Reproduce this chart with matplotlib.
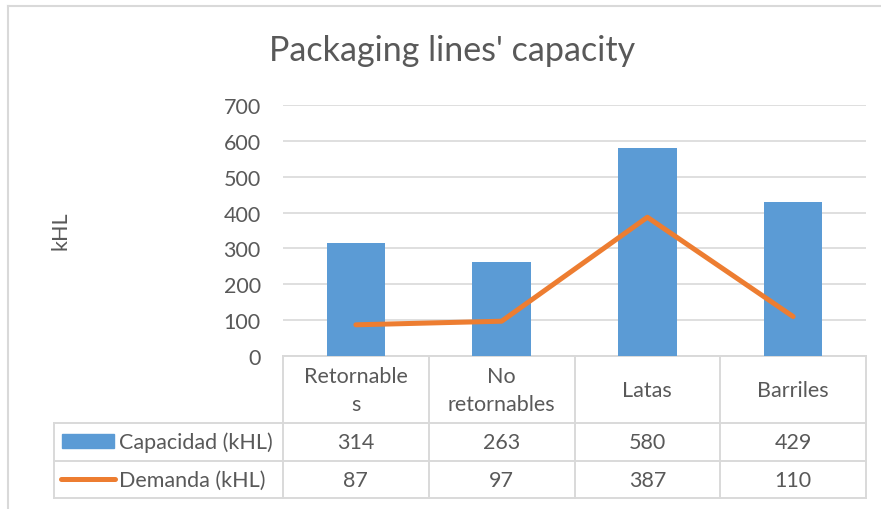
import matplotlib
matplotlib.use("Agg")
import matplotlib.pyplot as plt
from matplotlib.transforms import blended_transform_factory
from matplotlib.patches import Rectangle
from matplotlib.lines import Line2D

categories = ["Retornable\ns", "No\nretornables", "Latas", "Barriles"]
capacidad = [314, 263, 580, 429]
demanda = [87, 97, 387, 110]
series_names = ["Capacidad (kHL)", "Demanda (kHL)"]
yticks = [0, 100, 200, 300, 400, 500, 600, 700]
title = "Packaging lines' capacity"
ylabel = "kHL"

FONT = ["Lato", "DejaVu Sans"]
plt.rcParams["font.family"] = FONT
TXT = "#595959"
GRID = "#D9D9D9"
BLUE = "#5B9BD5"
ORANGE = "#ED7D31"
FS = 15.5

W, H = 881, 510
fig = plt.figure(figsize=(W / 100, H / 100), dpi=100)

# overlay in pixel coordinates
ov = fig.add_axes([0, 0, 1, 1])
ov.set_xlim(0, W)
ov.set_ylim(H, 0)
ov.axis("off")

x0, x1 = 283, 866
y_top, y_zero = 106, 357
ax = fig.add_axes([x0 / W, (H - y_zero) / H, (x1 - x0) / W, (y_zero - y_top) / H])
n = len(categories)
xs = list(range(n))
ax.bar(xs, capacidad, width=0.4, color=BLUE, zorder=2)
ax.plot(xs, demanda, color=ORANGE, lw=3.6, solid_capstyle="round", zorder=3)
ax.set_xlim(-0.5, n - 0.5)
ax.set_ylim(0, 700)
ax.set_yticks(yticks)
ax.set_yticklabels([str(t) for t in yticks], fontsize=FS, color=TXT)
ax.tick_params(axis="y", length=0, pad=16)
ax.set_xticks([])
ax.grid(axis="y", color=GRID, lw=1.2, zorder=0)
for s in ax.spines.values():
    s.set_visible(False)
ax.set_facecolor("none")

# outer chart border (left & top)
ov.add_line(Line2D([8, 8], [7, H], color=GRID, lw=1.5))
ov.add_line(Line2D([8, W], [7, 7], color=GRID, lw=1.5))

# title and y label
ov.text(452, 51, title, fontsize=24.5, color=TXT, ha="center", va="center")
ov.text(61, 231, ylabel, fontsize=FS, color=TXT, ha="center", va="center", rotation=90)

# data table
tr = blended_transform_factory(ax.transData, ov.transData)
lw_t = 1.4
left_leg = 54
# horizontal lines
ov.add_line(Line2D([left_leg, x1], [424, 424], color=GRID, lw=lw_t))
ov.add_line(Line2D([left_leg, x1], [462, 462], color=GRID, lw=lw_t))
ov.add_line(Line2D([left_leg, x1], [499, 499], color=GRID, lw=lw_t))
ov.add_line(Line2D([x0, x1], [357, 357], color=GRID, lw=lw_t))
# vertical lines
for b in [i - 0.5 for i in range(n + 1)]:
    ov.add_line(Line2D([b, b], [357, 499], color=GRID, lw=lw_t, transform=tr))
ov.add_line(Line2D([left_leg, left_leg], [424, 499], color=GRID, lw=lw_t))

for i, c in enumerate(categories):
    ov.text(i, 391, c, transform=tr, ha="center", va="center", fontsize=FS,
            color=TXT, linespacing=1.45)
    ov.text(i, 443, str(capacidad[i]), transform=tr, ha="center", va="center",
            fontsize=FS, color=TXT)
    ov.text(i, 481, str(demanda[i]), transform=tr, ha="center", va="center",
            fontsize=FS, color=TXT)

# legend keys
ov.add_patch(Rectangle((62, 435), 52, 14, color=BLUE))
ov.add_line(Line2D([61, 115], [480, 480], color=ORANGE, lw=3.6, solid_capstyle="round"))
ov.text(119, 443, series_names[0], ha="left", va="center", fontsize=FS, color=TXT)
ov.text(119, 481, series_names[1], ha="left", va="center", fontsize=FS, color=TXT)

fig.savefig("out.png", dpi=100)
